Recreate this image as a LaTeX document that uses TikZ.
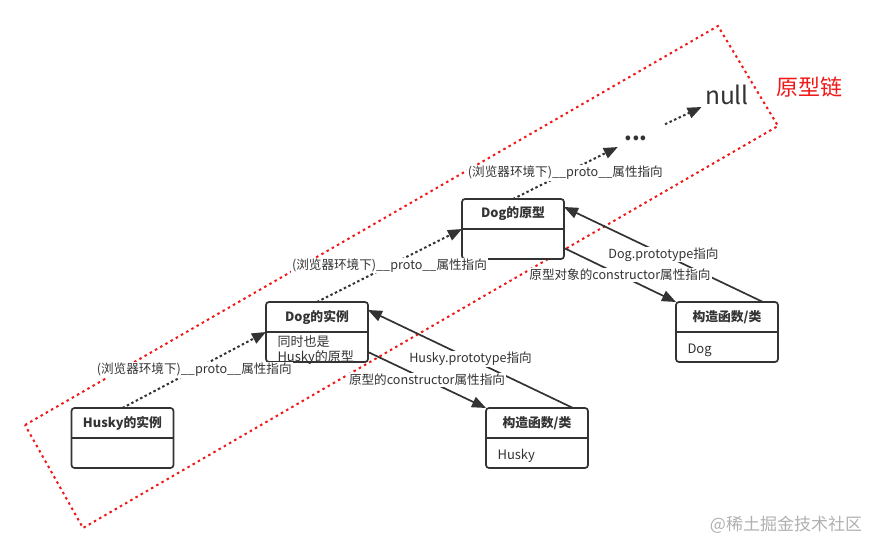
\documentclass[tikz,border=0pt]{standalone}
\usepackage{fontspec}
\setmainfont{Noto Sans CJK SC}
\usetikzlibrary{arrows.meta,positioning,calc}
\definecolor{cINK}{HTML}{333333}
\definecolor{cCHN}{HTML}{F01818}
\definecolor{cMRK}{HTML}{B0B0B0}
\begin{document}
\begin{tikzpicture}[x=1pt, y=-1pt, font=\fontsize{12.6}{15}\selectfont, text=cINK, >={Triangle[length=14pt,width=11pt]},
  b/.style={draw=cINK, line width=1.7pt, rounded corners=3pt, fill=white, minimum width=102pt, minimum height=60pt, inner sep=0pt, outer sep=0pt},
  h/.style={font=\fontsize{12.8}{15}\selectfont\bfseries},
  t/.style={fill=white, inner sep=1pt},
  p/.style={->, cINK, line width=2pt, dash pattern=on 2.5pt off 2.5pt},
  s/.style={->, cINK, line width=1.7pt}]
\useasboundingbox (0,0) rectangle (884,554);
\draw[cCHN, line width=2pt, dash pattern=on 2.5pt off 3.5pt] (25,425) -- (718,26) -- (778,126) -- (83,528) -- cycle;
\foreach \n/\x/\y/\v in {hi/122.5/438/{Husky的实例}, di/317/332/{Dog的实例}, dp/513/229/{Dog的原型}, hc/537/438/{构造函数/类}, dc/727/332/{构造函数/类}} {
  \node[b] (\n) at (\x,\y) {};
  \draw[cINK, line width=1.7pt] (\n.west) -- (\n.east);
  \node[h] (\n-h) at ([yshift=15pt]\n.center) {\v};
}
\node[anchor=west, align=left, font=\fontsize{13}{15}\selectfont] (di-b) at (274,350.5) {同时也是\\Husky的原型};
\node[anchor=west, font=\fontsize{13}{15}\selectfont] (hc-b) at (494,456) {Husky};
\node[anchor=west, font=\fontsize{13}{15}\selectfont] (dc-b) at (684,350) {Dog};
\node[font=\fontsize{22}{22}\selectfont\bfseries, minimum width=36pt, minimum height=20pt] (dots) at (636,138) {...};
\node[font=\fontsize{24.5}{24}\selectfont] (null) at (727,95) {null};
\node[text=cCHN, font=\fontsize{22}{22}\selectfont] (chain) at (809,87) {原型链};
\node[text=cMRK, font=\fontsize{17}{17}\selectfont] (mark) at (786,525) {@稀土掘金技术社区};
\draw[p] (hi.north) -- node[t] (l1) {(浏览器环境下)\_\_proto\_\_属性指向} (di.west);
\draw[p] (di.north) -- node[t] (l2) {(浏览器环境下)\_\_proto\_\_属性指向} (dp.west);
\draw[p] (dp.north) -- node[t] (l3) {(浏览器环境下)\_\_proto\_\_属性指向} (dots);
\draw[p, shorten <=12pt] (dots) -- (null);
\draw[s] ([xshift=36pt]hc.north) -- node[t] (l4) {Husky.prototype指向} ([yshift=-8pt]di.north east);
\draw[s] ([yshift=-20pt]di.east) -- node[t] (l5) {原型的constructor属性指向} (hc.north west);
\draw[s] ([xshift=36pt]dc.north) -- node[t] (l6) {Dog.prototype指向} ([yshift=22pt]dp.east);
\draw[s] ([yshift=-19pt]dp.east) -- node[t] (l7) {原型对象的constructor属性指向} (dc.north west);
\end{tikzpicture}
\end{document}
